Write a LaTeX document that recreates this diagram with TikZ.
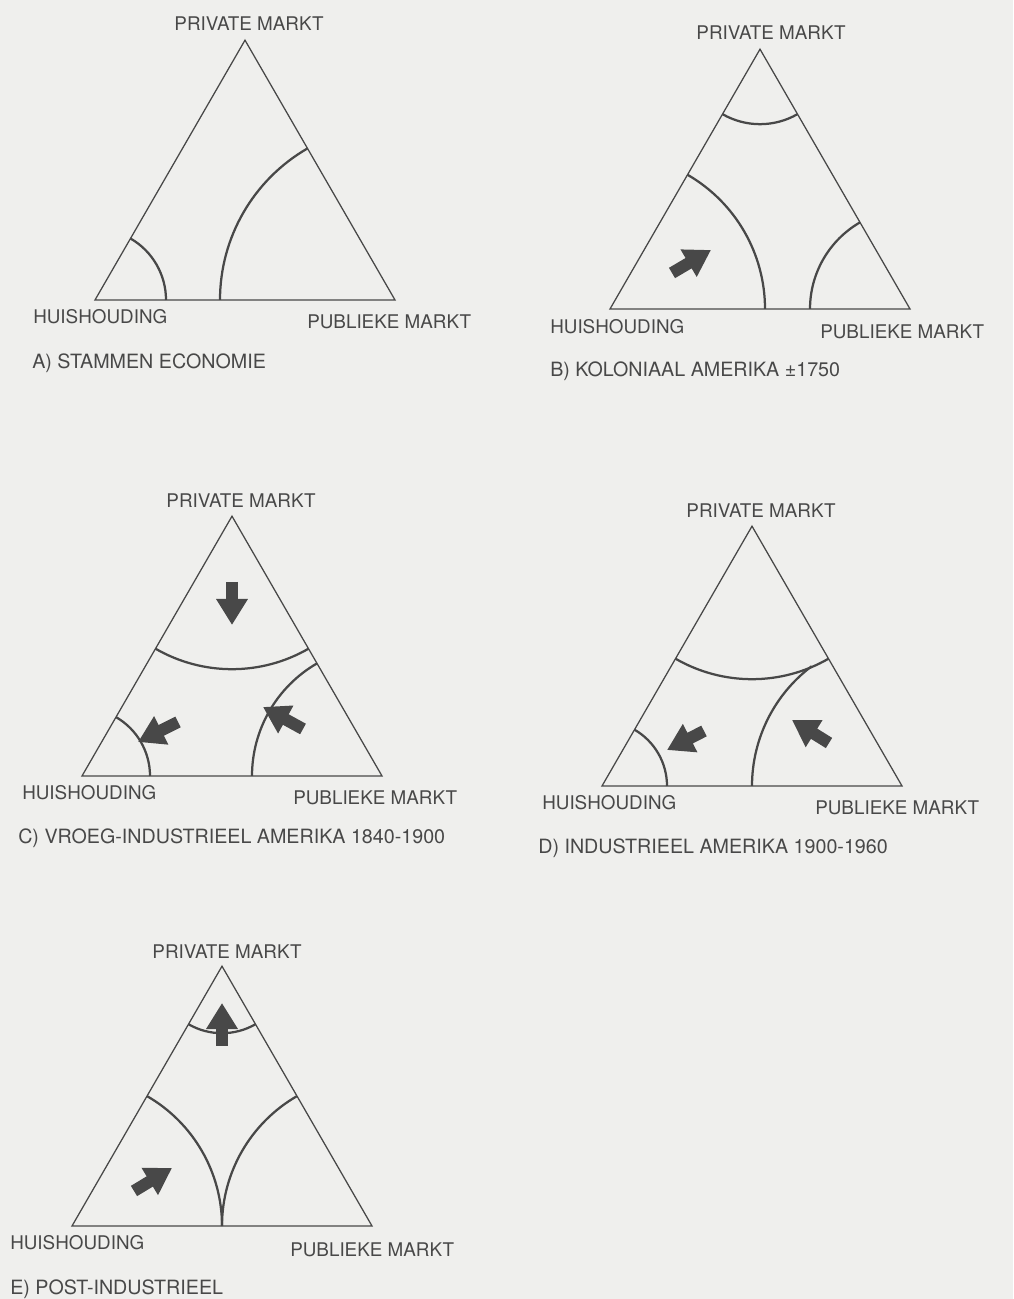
\documentclass[tikz,border=0pt]{standalone}
\usepackage{fontspec}
\setmainfont{TeX Gyre Heros}
\usepackage{tikz}
\usepackage{xcolor}
\usetikzlibrary{arrows.meta}

\definecolor{paper}{RGB}{239,239,237}
\definecolor{ink}{RGB}{72,72,72}

\begin{document}
\begin{tikzpicture}[x=0.025cm,y=0.025cm,
  every node/.style={font=\fontsize{13.4}{15}\selectfont,text=ink,inner sep=0pt},
  rim/.style={draw=ink,line width=0.9pt,line join=miter},
  sector/.style={draw=ink,line width=1.6pt},
  push/.style={draw=ink,line width=0.3cm,-{Triangle[width=0.75cm,length=0.65cm]}},
  apexlabel/.style={anchor=base},
  cornerlabel/.style={anchor=base west},
  caption/.style={anchor=base west,font=\fontsize{14}{16}\selectfont}]
\fill[paper] (0,0) rectangle (1013,1299);
\useasboundingbox (0,0) rectangle (1013,1299);

\begin{scope}[shift={(95,999)}]
\coordinate (Ha) at (0,0);
\coordinate (Pa) at (300,0);
\coordinate (Ma) at (150,259.8);
\draw[rim] (Ha) -- (Pa) -- (Ma) -- cycle;
\draw[sector] ([shift={(71,0)}]Ha) arc[start angle=0,end angle=60,radius=71];
\draw[sector] ([shift={(-175,0)}]Pa) arc[start angle=180,end angle=120,radius=175];
\node[apexlabel] (pma) at (154,269.5) {PRIVATE MARKT};
\node[cornerlabel] (hha) at (-62,-23.5) {HUISHOUDING};
\node[cornerlabel] (pba) at (212,-28.5) {PUBLIEKE MARKT};
\node[caption] (capa) at (-63,-69) {A) STAMMEN ECONOMIE};
\end{scope}

\begin{scope}[shift={(610,990)}]
\coordinate (Hb) at (0,0);
\coordinate (Pb) at (300,0);
\coordinate (Mb) at (150,259.8);
\draw[rim] (Hb) -- (Pb) -- (Mb) -- cycle;
\draw[sector] ([shift={(240:75)}]Mb) arc[start angle=240,end angle=300,radius=75];
\draw[sector] ([shift={(155,0)}]Hb) arc[start angle=0,end angle=60,radius=155];
\draw[sector] ([shift={(-100,0)}]Pb) arc[start angle=180,end angle=120,radius=100];
\coordinate (tb1) at (62,36);
\coordinate (kb1) at (101,59);
\draw[push] (tb1) -- (kb1);
\node[apexlabel] (pmb) at (161,269.5) {PRIVATE MARKT};
\node[cornerlabel] (hhb) at (-60,-24.5) {HUISHOUDING};
\node[cornerlabel] (pbb) at (210,-29.5) {PUBLIEKE MARKT};
\node[caption] (capb) at (-60,-68) {B) KOLONIAAL AMERIKA ±1750};
\end{scope}

\begin{scope}[shift={(82,523)}]
\coordinate (Hc) at (0,0);
\coordinate (Pc) at (300,0);
\coordinate (Mc) at (150,259.8);
\draw[rim] (Hc) -- (Pc) -- (Mc) -- cycle;
\draw[sector] ([shift={(240:153)}]Mc) arc[start angle=240,end angle=300,radius=153];
\draw[sector] ([shift={(68,0)}]Hc) arc[start angle=0,end angle=60,radius=68];
\draw[sector] ([shift={(-130,0)}]Pc) arc[start angle=180,end angle=120,radius=130];
\coordinate (tc1) at (150,194);
\coordinate (kc1) at (150,151);
\coordinate (tc2) at (96,54);
\coordinate (kc2) at (56,34);
\coordinate (tc3) at (221,47);
\coordinate (kc3) at (181,69);
\draw[push] (tc1) -- (kc1);
\draw[push] (tc2) -- (kc2);
\draw[push] (tc3) -- (kc3);
\node[apexlabel] (pmc) at (159,268.5) {PRIVATE MARKT};
\node[cornerlabel] (hhc) at (-60,-23.5) {HUISHOUDING};
\node[cornerlabel] (pbc) at (211,-28.5) {PUBLIEKE MARKT};
\node[caption] (capc) at (-64,-68) {C) VROEG-INDUSTRIEEL AMERIKA 1840-1900};
\end{scope}

\begin{scope}[shift={(602,513)}]
\coordinate (Hd) at (0,0);
\coordinate (Pd) at (300,0);
\coordinate (Md) at (150,259.8);
\draw[rim] (Hd) -- (Pd) -- (Md) -- cycle;
\draw[sector] ([shift={(240:153)}]Md) arc[start angle=240,end angle=300,radius=153];
\draw[sector] ([shift={(65,0)}]Hd) arc[start angle=0,end angle=60,radius=65];
\draw[sector] ([shift={(-150,0)}]Pd) arc[start angle=180,end angle=127,radius=150];
\coordinate (td1) at (102,55);
\coordinate (kd1) at (65,36);
\coordinate (td2) at (227,43);
\coordinate (kd2) at (190,66);
\draw[push] (td1) -- (kd1);
\draw[push] (td2) -- (kd2);
\node[apexlabel] (pmd) at (159,268.5) {PRIVATE MARKT};
\node[cornerlabel] (hhd) at (-60,-23.5) {HUISHOUDING};
\node[cornerlabel] (pbd) at (213,-28.5) {PUBLIEKE MARKT};
\node[caption] (capd) at (-64,-68) {D) INDUSTRIEEL AMERIKA 1900-1960};
\end{scope}

\begin{scope}[shift={(72,73)}]
\coordinate (He) at (0,0);
\coordinate (Pe) at (300,0);
\coordinate (Me) at (150,259.8);
\draw[rim] (He) -- (Pe) -- (Me) -- cycle;
\draw[sector] ([shift={(240:67)}]Me) arc[start angle=240,end angle=300,radius=67];
\draw[sector] ([shift={(150,0)}]He) arc[start angle=0,end angle=60,radius=150];
\draw[sector] ([shift={(-150,0)}]Pe) arc[start angle=180,end angle=120,radius=150];
\coordinate (te1) at (150,180);
\coordinate (ke1) at (150,223);
\coordinate (te2) at (62,35);
\coordinate (ke2) at (100,58);
\draw[push] (te1) -- (ke1);
\draw[push] (te2) -- (ke2);
\node[apexlabel] (pme) at (155,267.5) {PRIVATE MARKT};
\node[cornerlabel] (hhe) at (-62,-23.5) {HUISHOUDING};
\node[cornerlabel] (pbe) at (218,-30.5) {PUBLIEKE MARKT};
\node[caption] (cape) at (-62,-68) {E) POST-INDUSTRIEEL};
\end{scope}
\end{tikzpicture}
\end{document}
